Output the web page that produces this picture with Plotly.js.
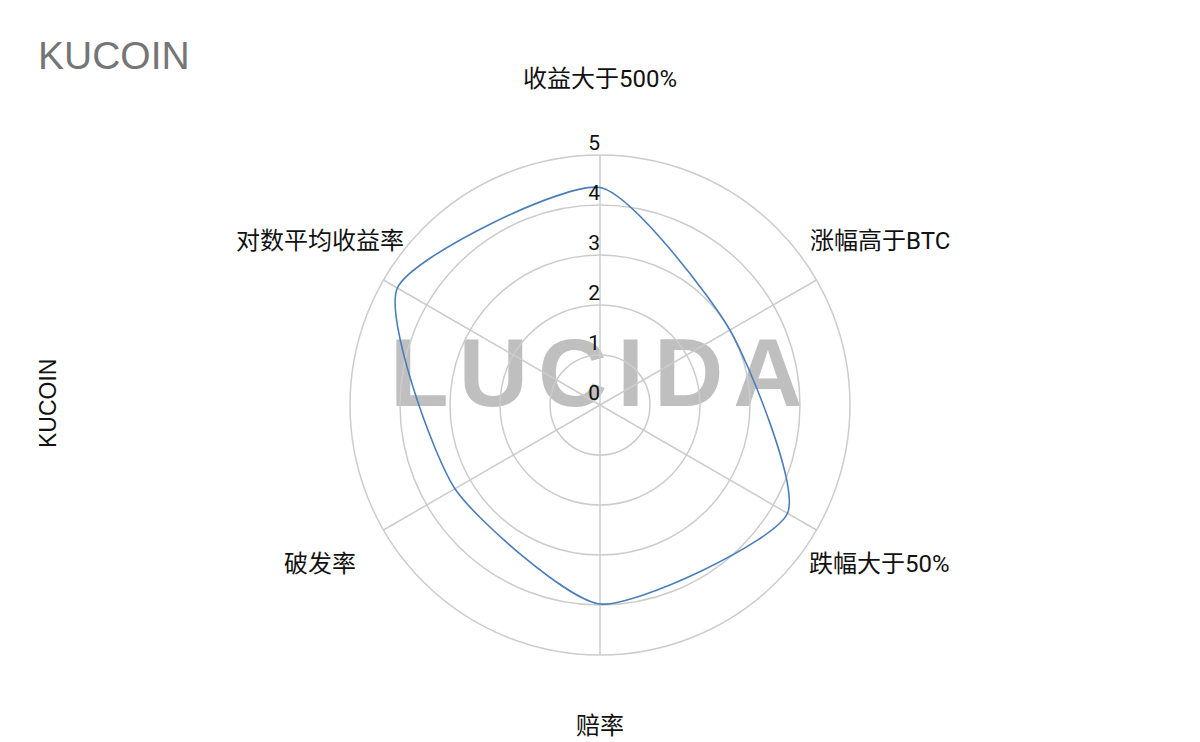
<!DOCTYPE html>
<html>
<head>
<meta charset="utf-8">
<script src="https://cdn.plot.ly/plotly-3.0.1.min.js"></script>
<style>
  html, body { margin: 0; padding: 0; background: #ffffff; }
  #wrap { position: relative; width: 1200px; height: 742px; }
  #wm {
    position: absolute; left: 390px; top: 325px;
    font-family: "Liberation Sans", Arial, sans-serif; font-weight: bold;
    font-size: 96px; line-height: 96px; letter-spacing: 10px;
    color: #bfbfbf; white-space: nowrap; z-index: 0;
  }
  #chart { position: absolute; left: 0; top: 0; width: 1200px; height: 742px; z-index: 1; }
</style>
</head>
<body>
<div id="wrap">
  <div id="wm">LUCIDA</div>
  <div id="chart"></div>
</div>
<script>
const chartTitle = 'KUCOIN';
const axisTitle = 'KUCOIN';
const categories = ['收益大于500%', '涨幅高于BTC', '跌幅大于50%', '赔率', '破发率', '对数平均收益率'];
const values = [4.35, 3.0, 4.33, 3.98, 3.35, 4.68];
const tickValues = [0, 1, 2, 3, 4, 5];
const tickLabels = ['0', '1', '2', '3', '4', '5'];

const W = 1200, H = 742;
const CX = 600, CY = 405, RADIUS = 250;   // polar area geometry (px)
const LABEL_R = 323, LABEL_CY = 402.5;    // category label ring (px)
const FONT = 'Roboto, "Noto Sans CJK SC", sans-serif';

const lineTrace = {
  type: 'scatterpolar',
  mode: 'lines',
  r: values.concat([values[0]]),
  theta: categories.concat([categories[0]]),
  line: { color: '#4a7ebb', width: 1.6, shape: 'spline', smoothing: 0.6 },
  hoverinfo: 'skip',
  showlegend: false
};

const tickTrace = {
  type: 'scatterpolar',
  mode: 'text',
  r: tickValues,
  theta: tickValues.map(() => categories[0]),
  text: tickLabels,
  textposition: 'top left',
  textfont: { family: FONT, size: 21, color: '#111111' },
  cliponaxis: false,
  hoverinfo: 'skip',
  showlegend: false
};

// category labels placed around the polar area
const catAnnotations = categories.map((c, i) => {
  const a = (i / categories.length) * 2 * Math.PI;
  const px = CX + LABEL_R * Math.sin(a);
  const py = LABEL_CY - LABEL_R * Math.cos(a);
  return {
    text: c, xref: 'paper', yref: 'paper',
    x: px / W, y: 1 - py / H, xanchor: 'center', yanchor: 'middle',
    showarrow: false,
    font: { family: FONT, size: 24, color: '#111111' }
  };
});

const layout = {
  width: W,
  height: H,
  margin: { l: 0, r: 0, t: 0, b: 0 },
  paper_bgcolor: 'rgba(0,0,0,0)',
  plot_bgcolor: 'rgba(0,0,0,0)',
  showlegend: false,
  title: {
    text: chartTitle,
    x: 38 / W, xanchor: 'left', xref: 'paper',
    y: 1 - 55 / H, yanchor: 'middle', yref: 'paper',
    font: { family: '"Liberation Sans", Arial, sans-serif', size: 39, color: '#757575' }
  },
  annotations: [{
    text: axisTitle,
    xref: 'paper', yref: 'paper',
    x: 48 / W, y: 1 - 404 / H,
    xanchor: 'center', yanchor: 'middle',
    textangle: -90,
    showarrow: false,
    font: { family: '"Liberation Sans", Arial, sans-serif', size: 23, color: '#111111' }
  }].concat(catAnnotations),
  polar: {
    domain: { x: [(CX - RADIUS) / W, (CX + RADIUS) / W], y: [1 - (CY + RADIUS) / H, 1 - (CY - RADIUS) / H] },
    bgcolor: 'rgba(0,0,0,0)',
    angularaxis: {
      type: 'category',
      categoryorder: 'array',
      categoryarray: categories,
      rotation: 90,
      direction: 'clockwise',
      showticklabels: false,
      ticks: '',
      showline: true,
      linecolor: '#cccccc',
      linewidth: 1.5,
      showgrid: true,
      gridcolor: '#cccccc',
      gridwidth: 1.5
    },
    radialaxis: {
      range: [0, 5],
      tickvals: tickValues,
      showticklabels: false,
      ticks: '',
      showline: false,
      showgrid: true,
      gridcolor: '#cccccc',
      gridwidth: 1.5
    }
  }
};

Plotly.newPlot('chart', [lineTrace, tickTrace], layout, { staticPlot: true, displayModeBar: false });
</script>
</body>
</html>
